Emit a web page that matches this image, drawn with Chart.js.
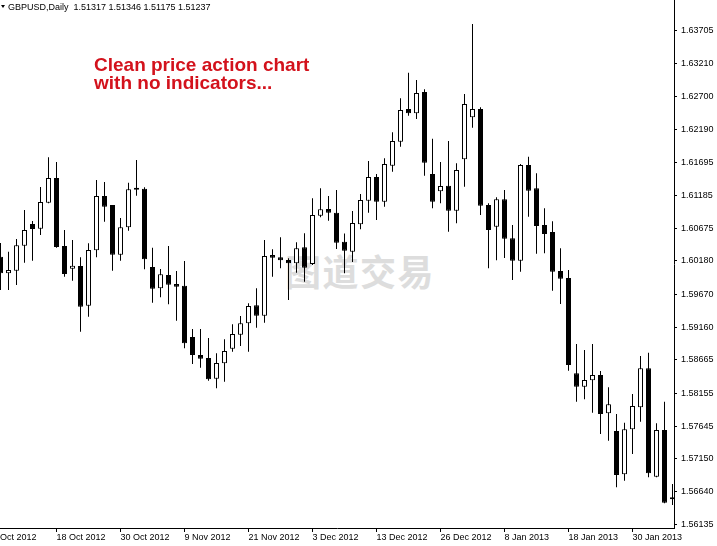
<!DOCTYPE html>
<html lang="en">
<head>
<meta charset="UTF-8">
<title>GBPUSD Daily</title>
<style>
  body { margin: 0; padding: 0; background: #fff; }
  .wrap { position: relative; width: 717px; height: 546px; overflow: hidden; background: #fff; }
  #chart { position: absolute; left: 0; top: 0; }
  .watermark {
    position: absolute; left: 285px; top: 252px;
    font: bold 36px "Noto Sans CJK SC"; line-height: 36px; letter-spacing: 1.5px;
    color: #dddddd; white-space: nowrap;
  }
  .header {
    position: absolute; left: 8px; top: 2px;
    font: 9px "Liberation Sans", sans-serif; line-height: 10px;
    color: #000; white-space: pre;
  }
  .tri {
    position: absolute; left: 1px; top: 5px; width: 0; height: 0;
    border-left: 2px solid transparent; border-right: 2px solid transparent;
    border-top: 3px solid #000;
  }
  .note {
    position: absolute; left: 94px; top: 56px;
    font: bold 19px "Liberation Sans", Arial, sans-serif; line-height: 18px;
    color: #d3121c; white-space: nowrap;
  }
</style>
<script src="https://cdn.jsdelivr.net/npm/chart.js"></script>
</head>
<body>
<div class="wrap">
  <div class="watermark">图道交易</div>
  <canvas id="chart" width="717" height="546"></canvas>
  <div class="tri"></div>
  <div class="header">GBPUSD,Daily  1.51317 1.51346 1.51175 1.51237</div>
  <div class="note">Clean price action chart<br>with no indicators...</div>
</div>

<script>
// daily bars, 9 Oct 2012 .. 1 Feb 2013 (index 0 = 9 Oct)
const opens = [
  1.60246, 1.59992, 1.60032, 1.60415, 1.60747, 1.60675, 1.61074, 1.61452, 1.60410, 1.60062,
  1.60104, 1.59495, 1.60344, 1.61176, 1.61038, 1.60277, 1.60697, 1.61271, 1.61288, 1.60088,
  1.59762, 1.59966, 1.59828, 1.59802, 1.59016, 1.58740, 1.58694, 1.58376, 1.58612, 1.58836,
  1.59051, 1.59225, 1.59501, 1.59342, 1.60272, 1.60237, 1.60196, 1.60145, 1.60390, 1.60134,
  1.60874, 1.60977, 1.60920, 1.60476, 1.60323, 1.60743, 1.61104, 1.61468, 1.61089, 1.61641,
  1.62008, 1.62510, 1.62444, 1.62770, 1.61513, 1.61248, 1.61334, 1.60951, 1.61739, 1.62382,
  1.62510, 1.61038, 1.60706, 1.61126, 1.60528, 1.60185, 1.61651, 1.61294, 1.60732, 1.60625,
  1.60027, 1.59920, 1.58459, 1.58254, 1.58352, 1.58433, 1.57846, 1.57575, 1.56911, 1.57601,
  1.57938, 1.58536, 1.56875, 1.57590, 1.56559
];
const highs = [
  1.60456, 1.60323, 1.60517, 1.60962, 1.60793, 1.61314, 1.61769, 1.61697, 1.60655, 1.60502,
  1.60237, 1.60451, 1.61422, 1.61391, 1.61038, 1.60839, 1.61380, 1.61728, 1.61310, 1.60384,
  1.60058, 1.60410, 1.60027, 1.60180, 1.59138, 1.59138, 1.59000, 1.58766, 1.58980, 1.59210,
  1.59337, 1.59532, 1.59762, 1.60502, 1.60360, 1.60543, 1.60222, 1.60467, 1.60605, 1.61141,
  1.61294, 1.61176, 1.61268, 1.60602, 1.60946, 1.61207, 1.61713, 1.61513, 1.61754, 1.62153,
  1.62674, 1.63066, 1.62954, 1.62812, 1.62054, 1.61697, 1.62019, 1.61677, 1.62739, 1.63812,
  1.62536, 1.61064, 1.61156, 1.61268, 1.60732, 1.61667, 1.61779, 1.61524, 1.60988, 1.60789,
  1.60375, 1.60042, 1.58908, 1.58816, 1.58908, 1.58494, 1.58245, 1.57835, 1.57702, 1.58142,
  1.58724, 1.58775, 1.57693, 1.58024, 1.56763
];
const lows = [
  1.59736, 1.59736, 1.59812, 1.60154, 1.60185, 1.60579, 1.61064, 1.60384, 1.59940, 1.59878,
  1.59097, 1.59327, 1.60237, 1.60782, 1.60032, 1.60185, 1.60645, 1.61181, 1.60053, 1.59541,
  1.59624, 1.59517, 1.59265, 1.58842, 1.58602, 1.58545, 1.58346, 1.58229, 1.58330, 1.58790,
  1.58878, 1.58790, 1.59158, 1.59235, 1.59940, 1.60068, 1.59583, 1.60001, 1.59863, 1.60119,
  1.60850, 1.60798, 1.60364, 1.59992, 1.60165, 1.60666, 1.60920, 1.60809, 1.61012, 1.61549,
  1.61932, 1.62407, 1.62356, 1.61487, 1.60988, 1.61064, 1.60629, 1.60758, 1.61319, 1.62223,
  1.60885, 1.60068, 1.60191, 1.60226, 1.59889, 1.60016, 1.60859, 1.60292, 1.60298, 1.59725,
  1.59521, 1.58499, 1.58024, 1.58061, 1.57855, 1.57529, 1.57426, 1.56712, 1.56813, 1.57222,
  1.57717, 1.56865, 1.56865, 1.56467, 1.56441
];
const closes = [
  1.59992, 1.60042, 1.60421, 1.60655, 1.60671, 1.61084, 1.61452, 1.60395, 1.59981, 1.60108,
  1.59480, 1.60349, 1.61176, 1.61012, 1.60277, 1.60697, 1.61279, 1.61284, 1.60206, 1.59756,
  1.59976, 1.59817, 1.59786, 1.58919, 1.58740, 1.58683, 1.58367, 1.58617, 1.58801, 1.59061,
  1.59225, 1.59491, 1.59342, 1.60257, 1.60231, 1.60191, 1.60145, 1.60375, 1.60078, 1.60885,
  1.60973, 1.60920, 1.60461, 1.60338, 1.60763, 1.61115, 1.61468, 1.61089, 1.61667, 1.62019,
  1.62494, 1.62444, 1.62755, 1.61687, 1.61089, 1.61330, 1.60951, 1.61575, 1.62586, 1.62510,
  1.61028, 1.60655, 1.61126, 1.60522, 1.60185, 1.61651, 1.61258, 1.60717, 1.60594, 1.60016,
  1.59909, 1.58586, 1.58254, 1.58357, 1.58433, 1.57835, 1.57984, 1.56901, 1.57601, 1.57958,
  1.58536, 1.56927, 1.57590, 1.56476, 1.56528
];

// time axis labels (bar index where each label sits)
const tickIndex = [-1, 7, 15, 23, 31, 39, 47, 55, 63, 71, 79];
const tickLabels = ['8 Oct 2012', '18 Oct 2012', '30 Oct 2012', '9 Nov 2012', '21 Nov 2012',
  '3 Dec 2012', '13 Dec 2012', '26 Dec 2012', '8 Jan 2013', '18 Jan 2013', '30 Jan 2013'];

// price axis labels
const priceTicks = [1.63705, 1.63210, 1.62700, 1.62190, 1.61695, 1.61185, 1.60675, 1.60180,
  1.59670, 1.59160, 1.58665, 1.58155, 1.57645, 1.57150, 1.56640, 1.56135];

const labelFont = { family: '"Liberation Sans", sans-serif', size: 9 };

const bodies = opens.map((o, i) => ({ x: i, y: [o, closes[i]] }));
const wicks = lows.map((l, i) => ({ x: i, y: [l, highs[i]] }));
const bodyColors = opens.map((o, i) => closes[i] >= o ? '#ffffff' : '#000000');

new Chart(document.getElementById('chart'), {
  type: 'bar',
  data: {
    datasets: [
      {
        label: 'body',
        data: bodies,
        backgroundColor: bodyColors,
        borderColor: '#000',
        borderWidth: 1,
        borderSkipped: false,
        barThickness: 5,
        minBarLength: 2,
        grouped: false,
        inflateAmount: 0
      },
      {
        label: 'wick',
        data: wicks,
        backgroundColor: '#000',
        borderWidth: 0,
        barThickness: 1,
        grouped: false,
        inflateAmount: 0
      }
    ]
  },
  options: {
    responsive: false,
    animation: false,
    devicePixelRatio: 1,
    layout: { padding: 0 },
    plugins: {
      legend: { display: false },
      tooltip: { enabled: false }
    },
    scales: {
      x: {
        type: 'linear',
        position: 'bottom',
        offset: false,
        min: -0.0625,
        max: 84.1875,
        afterBuildTicks: (s) => { s.ticks = tickIndex.map(v => ({ value: v })); },
        afterFit: (s) => { s.height = 18; s.paddingLeft = 0; s.paddingRight = 0; },
        grid: { drawOnChartArea: false, offset: false, tickLength: 4, color: '#000' },
        border: { display: true, color: '#000', width: 1 },
        ticks: {
          autoSkip: false,
          maxRotation: 0,
          align: 'start',
          padding: 0,
          color: '#000',
          font: labelFont,
          callback: (v, i) => tickLabels[i]
        }
      },
      y: {
        type: 'linear',
        position: 'right',
        min: 1.56088,
        max: 1.64180,
        afterBuildTicks: (s) => { s.ticks = priceTicks.map(v => ({ value: v })); },
        afterFit: (s) => { s.width = 43; s.paddingTop = 0; s.paddingBottom = 0; },
        grid: { drawOnChartArea: false, tickLength: 3, color: '#000' },
        border: { display: true, color: '#000', width: 1 },
        ticks: {
          autoSkip: false,
          padding: 4,
          color: '#000',
          font: labelFont,
          callback: (v) => Number(v).toFixed(5)
        }
      }
    }
  }
});
</script>
</body>
</html>
